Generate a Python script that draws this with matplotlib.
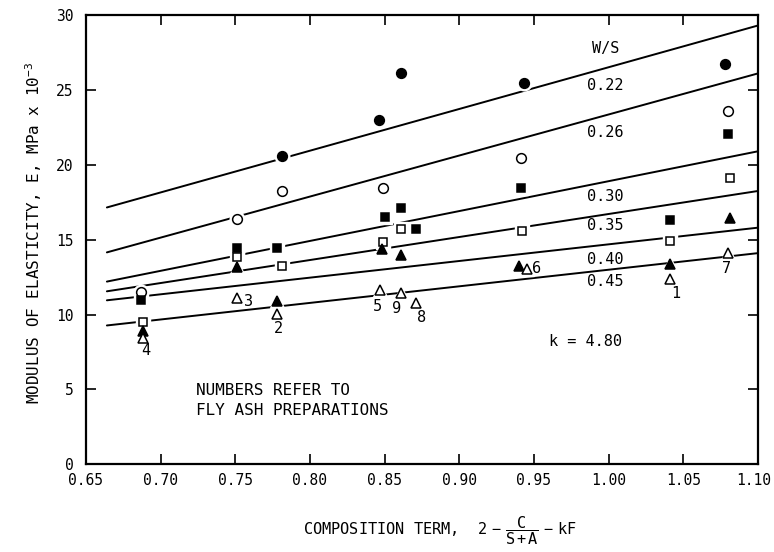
import matplotlib
matplotlib.use("Agg")
import matplotlib.pyplot as plt
from matplotlib.ticker import FormatStrFormatter
from matplotlib.transforms import ScaledTranslation

plt.rcParams['font.family'] = ['DejaVu Sans Mono', 'DejaVu Sans']
plt.rcParams['mathtext.fontset'] = 'custom'
plt.rcParams['mathtext.rm'] = 'DejaVu Sans Mono'
plt.rcParams['mathtext.it'] = 'DejaVu Sans Mono'

# water/solids ratios and the fitted lines for each
ws_labels = ['0.22', '0.26', '0.30', '0.35', '0.40', '0.45']
line_x = [0.664, 1.10]
line_start = [17.15, 14.15, 12.2, 11.55, 10.95, 9.27]
line_end = [29.3, 26.1, 20.9, 18.25, 15.8, 14.1]

# measured modulus values, E (MPa x 10^-3), by W/S ratio
x_022 = [0.781, 0.846, 0.861, 0.943, 1.078]
e_022 = [20.58, 22.98, 26.14, 25.47, 26.72]

x_026 = [0.687, 0.751, 0.781, 0.849, 0.941, 1.080]
e_026 = [11.52, 16.36, 18.26, 18.42, 20.43, 23.58]

x_030 = [0.687, 0.751, 0.778, 0.850, 0.861, 0.871, 0.941, 1.041, 1.080]
e_030 = [10.97, 14.42, 14.42, 16.53, 17.09, 15.69, 18.46, 16.31, 22.05]

x_035 = [0.688, 0.751, 0.781, 0.849, 0.861, 0.942, 1.041, 1.081]
e_035 = [9.52, 13.82, 13.26, 14.86, 15.71, 15.59, 14.91, 19.09]

x_040 = [0.688, 0.751, 0.778, 0.848, 0.861, 0.940, 1.041, 1.081]
e_040 = [8.92, 13.19, 10.92, 14.39, 13.99, 13.26, 13.37, 16.42]

x_045 = [0.688, 0.751, 0.778, 0.847, 0.861, 0.871, 0.945, 1.041, 1.080]
e_045 = [8.41, 11.08, 10.03, 11.64, 11.42, 10.75, 13.02, 12.37, 14.13]

# fly ash preparation numbers
prep_ids = ['4', '3', '2', '5', '9', '8', '6', '1', '7']
prep_lx = [0.690, 0.759, 0.779, 0.845, 0.858, 0.875, 0.952, 1.045, 1.079]
prep_ly = [7.63, 10.85, 9.08, 10.52, 10.37, 9.81, 13.08, 11.42, 13.08]

# positions of the W/S labels along the lines
ws_lx = 0.998
ws_ly = [25.32, 22.14, 17.91, 15.93, 13.68, 12.19]

x_ticks = [0.65, 0.70, 0.75, 0.80, 0.85, 0.90, 0.95, 1.00, 1.05, 1.10]
y_ticks = [0, 5, 10, 15, 20, 25, 30]

fig = plt.figure(figsize=(7.74, 5.52), dpi=100)
ax = fig.add_axes([0.1111, 0.1589, 0.8682, 0.8139])

for s, e in zip(line_start, line_end):
    ax.plot(line_x, [s, e], color='black', lw=1.4, zorder=2, solid_capstyle='round')

series = [
    (x_022, e_022, 'o', 'black', 7.0),
    (x_026, e_026, 'o', 'white', 7.0),
    (x_030, e_030, 's', 'black', 6.3),
    (x_035, e_035, 's', 'white', 6.3),
    (x_040, e_040, '^', 'black', 6.8),
    (x_045, e_045, '^', 'white', 6.8),
]
for xs, ys, m, fc, ms in series:
    # white halo breaks the line around each symbol
    ax.plot(xs, ys, linestyle='none', marker=m, markersize=ms + 3.5,
            markerfacecolor='white', markeredgecolor='white', zorder=3)
    ax.plot(xs, ys, linestyle='none', marker=m, markersize=ms,
            markerfacecolor=fc, markeredgecolor='black', markeredgewidth=1.1,
            zorder=4)

ax.text(ws_lx, 27.77, 'W/S', ha='center', va='center', fontsize=11)
for lab, ly in zip(ws_labels, ws_ly):
    ax.text(ws_lx, ly, lab, ha='center', va='center', fontsize=11)

for pid, px, py in zip(prep_ids, prep_lx, prep_ly):
    ax.text(px, py, pid, ha='center', va='center', fontsize=11)

ax.text(0.724, 4.91, 'NUMBERS REFER TO', ha='left', va='center', fontsize=11.5)
ax.text(0.724, 3.62, 'FLY ASH PREPARATIONS', ha='left', va='center', fontsize=11.5)
ax.text(0.960, 8.18, 'k = 4.80', ha='left', va='center', fontsize=11)

ax.set_xlim(0.65, 1.10)
ax.set_ylim(0, 30)
ax.set_xticks(x_ticks)
ax.set_yticks(y_ticks)
ax.xaxis.set_major_formatter(FormatStrFormatter('%.2f'))
ax.tick_params(direction='in', length=7, width=1.2, top=True, right=True,
               labelsize=10.5, colors='black')
ax.tick_params(axis='x', pad=6)
ax.tick_params(axis='y', pad=9)
for sp in ax.spines.values():
    sp.set_linewidth(1.6)

# keep the last x tick label inside the figure
last = ax.get_xticklabels()[-1]
last.set_transform(last.get_transform() + ScaledTranslation(-3 / 72, 0, fig.dpi_scale_trans))

fig.text(0.043, 0.578, r'MODULUS OF ELASTICITY, E, MPa x 10$^{-3}$',
         rotation=90, ha='center', va='center', fontsize=11.5)
fig.text(0.568, 0.038,
         r'COMPOSITION TERM,  $2\ -\ \dfrac{\mathrm{C}}{\mathrm{S+A}}\ -\ \mathrm{kF}$',
         ha='center', va='center', fontsize=11)

fig.savefig('out.png', dpi=100, facecolor='white')
